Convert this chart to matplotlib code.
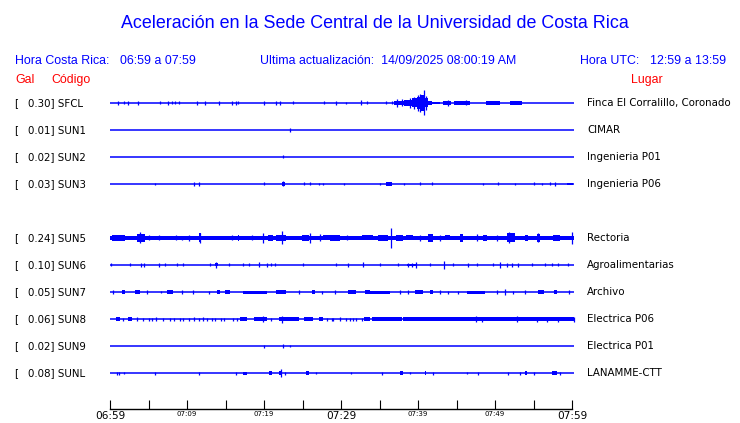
import matplotlib.pyplot as plt
from matplotlib.transforms import blended_transform_factory

# estaciones (fila 4 vacia, SUN4 no reporta)
stations = ['SFCL', 'SUN1', 'SUN2', 'SUN3', 'SUN5', 'SUN6', 'SUN7', 'SUN8', 'SUN9', 'SUNL']
gal = [0.30, 0.01, 0.02, 0.03, 0.24, 0.10, 0.05, 0.06, 0.02, 0.08]
places = ['Finca El Corralillo, Coronado', 'CIMAR', 'Ingenieria P01', 'Ingenieria P06',
          'Rectoria', 'Agroalimentarias', 'Archivo', 'Electrica P06', 'Electrica P01',
          'LANAMME-CTT']
rows = [0, 1, 2, 3, 5, 6, 7, 8, 9, 10]

tick_minutes = list(range(0, 61, 5))
tick_text = ['06:59', '', '07:09', '', '07:19', '', '07:29', '', '07:39', '', '07:49', '', '07:59']
t_end = 60.3

# picos: (minuto desde 06:59, semi-amplitud)
sfcl_spikes = [(1.0, 2), (1.8, 1.5), (2.3, 2), (3.7, 2), (6.5, 1.5), (7.5, 2), (8.1, 1.5), (8.5, 1.5),
               (9.0, 1.5), (11.3, 2), (12.3, 2), (14.2, 2), (15.9, 2), (16.4, 2), (16.6, 1.5), (20.0, 2),
               (21.5, 2), (22.1, 2), (23.8, 1.5), (27.8, 1.5), (29.4, 2), (30.6, 1), (32.6, 2.5),
               (33.4, 1.5), (35.9, 1.5), (36.6, 1.5), (37.3, 4), (37.9, 3.5), (39.0, 5), (39.5, 6),
               (40.0, 8), (40.3, 9), (40.8, 12.5), (41.0, 7), (43.9, 3), (46.2, 2.5)]
# tramos: (inicio, fin, semi-amplitud)
sfcl_bands = [(36.9, 38.2, 2.2), (38.2, 39.2, 3.2), (39.2, 39.9, 4.5), (39.9, 40.4, 6), (40.4, 40.9, 8),
              (40.9, 41.3, 4.5), (41.3, 41.8, 2.2), (41.8, 42.9, 1.3), (43.2, 44.3, 1.8), (44.7, 46.8, 1.6),
              (48.8, 50.6, 1.7), (51.9, 53.5, 1.7)]

sun1_spikes = [(23.4, 2)]
sun1_bands = []

sun2_spikes = [(22.5, 1.5)]
sun2_bands = []

sun3_spikes = [(5.9, 1), (10.9, 2), (11.5, 2), (20.0, 1.5), (22.5, 2.5), (25.2, 1.5), (26.0, 1.5),
               (27.1, 1), (27.7, 1), (30.4, 1), (35.1, 1), (38.2, 1), (40.2, 1.5), (41.8, 1.5), (48.4, 1),
               (50.4, 1.5), (52.6, 1), (55.0, 1.5), (56.1, 1), (57.1, 1.5), (57.8, 2)]
sun3_bands = [(22.4, 22.7, 2), (35.9, 36.6, 1.6), (59.3, 60.1, 1.3)]

sun5_spikes = [(3.9, 5.5), (5.1, 2.5), (6.3, 2.5), (8.6, 2.5), (9.3, 2), (10.2, 3), (11.7, 5), (15.8, 2.5),
               (18.4, 2.5), (19.9, 5), (22.3, 6.5), (26.0, 5), (27.3, 3.5), (30.8, 2.5), (36.5, 10),
               (40.3, 3), (42.9, 3), (47.6, 3.5), (50.2, 3), (51.8, 5.5), (55.6, 4.5), (60.0, 6)]
sun5_bands = [(0.0, 60.3, 2), (0.2, 1.9, 3.2), (3.5, 4.5, 3.6), (11.6, 11.8, 4.5), (16.6, 16.8, 3.2),
              (20.5, 21.2, 2.8), (21.6, 22.9, 3.2), (24.9, 25.8, 3.2), (27.7, 28.6, 2.5), (28.6, 29.9, 3.2),
              (32.7, 34.2, 2.5), (34.8, 36.1, 3.2), (37.2, 38.1, 3.2), (38.4, 39.4, 2.5), (41.3, 41.9, 3.6),
              (43.5, 44.2, 2.5), (45.5, 45.9, 3.6), (48.4, 49.0, 3.2), (51.5, 52.6, 4.5), (53.9, 54.3, 3.2),
              (55.4, 55.8, 4), (57.5, 58.4, 2.8)]

sun6_spikes = [(0.1, 1.5), (2.6, 1.5), (4.0, 2), (4.4, 2), (6.3, 2), (7.1, 1.5), (8.7, 1.5), (9.5, 1.5),
               (13.0, 1.5), (13.8, 3), (15.5, 1.5), (17.3, 1.5), (18.0, 1.5), (19.4, 2.5), (20.4, 2),
               (20.9, 1.5), (21.4, 1.5), (25.0, 1.5), (29.4, 1.5), (30.9, 2), (32.9, 2.5), (35.1, 1.5),
               (37.4, 1.5), (38.7, 2), (39.2, 2), (39.8, 3), (41.5, 1.5), (43.4, 4), (44.5, 1.5), (46.5, 2),
               (47.6, 1.5), (49.8, 1.5), (50.7, 3), (51.6, 2), (52.2, 2), (53.0, 2), (54.8, 1.5),
               (56.5, 1.5), (57.4, 1.5), (58.2, 1.5), (59.5, 1.5)]
sun6_bands = [(38.6, 39.9, 1.4), (13.6, 14.0, 1.5)]

sun7_spikes = [(0.4, 2), (4.8, 2), (6.6, 1), (9.4, 2), (10.8, 2), (12.9, 1.5), (24.5, 2), (27.5, 1.5),
               (29.2, 2), (37.7, 2), (38.7, 2), (42.9, 2), (43.9, 1.5), (45.2, 1.5), (50.2, 2), (51.3, 3),
               (52.4, 1.5), (53.9, 2), (59.6, 2)]
sun7_bands = [(1.5, 1.9, 2), (3.2, 3.9, 2), (7.4, 8.2, 2), (13.9, 14.3, 2), (14.9, 15.6, 2), (17.3, 20.4, 1.5),
              (21.6, 22.9, 2), (26.2, 26.6, 2), (30.9, 32.0, 2), (33.1, 33.8, 2), (33.8, 36.4, 1.5),
              (39.6, 40.7, 2), (41.6, 42.0, 2), (46.3, 48.7, 1.5), (55.6, 56.3, 2), (57.6, 58.0, 2)]

sun8_spikes = [(1.7, 1.5), (3.5, 2), (4.3, 1.5), (5.0, 1.5), (5.4, 1.5), (6.0, 2), (6.9, 1.5), (7.8, 1.5),
               (8.3, 1.5), (9.1, 1.5), (9.5, 1.5), (10.2, 1.5), (10.9, 2), (11.5, 1.5), (12.1, 2),
               (12.6, 1.5), (13.2, 1.5), (13.6, 1.5), (14.4, 1.5), (14.8, 1.5), (16.0, 1.5), (16.5, 1.5),
               (19.9, 3), (20.9, 1.5), (22.4, 3.5), (28.2, 1.5), (28.8, 1.5), (29.0, 1.5), (29.9, 2),
               (30.7, 1.5), (31.2, 1.5), (31.6, 1.5), (32.0, 1.5), (32.7, 1.5), (47.5, 3), (48.3, 2.5),
               (52.9, 3), (55.5, 2.5), (56.7, 2.5), (58.2, 2.5), (60.3, 2.5)]
sun8_bands = [(0.8, 1.3, 2), (2.4, 2.8, 2), (16.9, 17.8, 1.8), (18.7, 20.4, 2), (21.9, 24.5, 2.2),
              (25.2, 26.4, 1.8), (27.1, 27.7, 2.2), (33.0, 33.8, 1.8), (34.0, 37.9, 2), (38.1, 60.3, 2)]

sun9_spikes = [(20.0, 1.5), (22.5, 2), (23.4, 1)]
sun9_bands = []

sunl_spikes = [(0.9, 1.5), (1.2, 1.5), (1.8, 1), (5.9, 1.5), (11.6, 1.5), (16.4, 1.5), (22.2, 4), (22.7, 1.5),
               (26.8, 1), (31.3, 1), (35.3, 1.5), (38.9, 1), (42.0, 1.5), (46.3, 1), (47.8, 1.5), (51.7, 1.5),
               (53.2, 1.5), (55.0, 1.5), (58.4, 1.5)]
sunl_bands = [(17.3, 17.8, 1.5), (20.6, 21.0, 1.8), (22.0, 22.4, 2.2), (25.5, 25.9, 1.8), (37.7, 38.1, 1.8),
              (40.9, 41.1, 1.8), (53.9, 54.1, 1.8), (57.4, 58.0, 1.8)]

all_spikes = [sfcl_spikes, sun1_spikes, sun2_spikes, sun3_spikes, sun5_spikes,
              sun6_spikes, sun7_spikes, sun8_spikes, sun9_spikes, sunl_spikes]
all_bands = [sfcl_bands, sun1_bands, sun2_bands, sun3_bands, sun5_bands,
             sun6_bands, sun7_bands, sun8_bands, sun9_bands, sunl_bands]

blue = '#0000ff'
red = '#ff0000'
amp_k = 1 / 27.0  # amplitude -> row units

fig = plt.figure(figsize=(7.4, 4.23), dpi=100)
ax = fig.add_axes([110 / 740, 14 / 423, 462 / 740, 319 / 423])
ax.set_xlim(0, 60)
ax.set_ylim(11.333, -0.481)

for row, sp, bd in zip(rows, all_spikes, all_bands):
    ax.plot([0, t_end], [row, row], color=blue, lw=1.1, solid_capstyle='butt', clip_on=False)
    for s, e, a in bd:
        ax.fill_between([s, e], row - a * amp_k, row + a * amp_k, color=blue, lw=0, clip_on=False)
    if sp:
        t = [p[0] for p in sp]
        a = [p[1] * amp_k for p in sp]
        ax.vlines(t, [row - v for v in a], [row + v for v in a], color=blue, lw=0.9, clip_on=False)

for s in ['top', 'left', 'right']:
    ax.spines[s].set_visible(False)
ax.spines['bottom'].set_linewidth(1.0)
ax.set_yticks([])
ax.set_xticks(tick_minutes)
ax.set_xticklabels(tick_text)
ax.tick_params(axis='x', direction='in', length=6.5, width=0.8, pad=1.5)
for lbl, m in zip(ax.get_xticklabels(), tick_minutes):
    if m % 30 == 0:
        lbl.set_fontsize(7.6)
        lbl.set_family('DejaVu Sans')
    else:
        lbl.set_fontsize(5)
        lbl.set_family(['Liberation Sans Narrow', 'DejaVu Sans'])

tr = blended_transform_factory(fig.transFigure, ax.transData)
for row, st, g, pl in zip(rows, stations, gal, places):
    ax.text(14 / 740, row, '[', transform=tr, fontsize=7.4, va='center', ha='left', family='DejaVu Sans')
    ax.text(28 / 740, row, f'{g:.2f}] {st}', transform=tr, fontsize=7.4, va='center', ha='left',
            family='DejaVu Sans')
    ax.text(587 / 740, row, pl, transform=tr, fontsize=7.4, va='center', ha='left', family='DejaVu Sans')

hf = 'Liberation Sans'
fig.text(375 / 740, 1 - 23 / 423, 'Aceleración en la Sede Central de la Universidad de Costa Rica',
         ha='center', va='center', color=blue, fontsize=12.9, family=hf)
hy = 1 - 61 / 423
fig.text(15 / 740, hy, 'Hora Costa Rica:', color=blue, fontsize=8.9, va='center', family=hf)
fig.text(120 / 740, hy, '06:59 a 07:59', color=blue, fontsize=8.9, va='center', family=hf)
fig.text(260 / 740, hy, 'Ultima actualización:  14/09/2025 08:00:19 AM', color=blue, fontsize=8.9,
         va='center', family=hf)
fig.text(580 / 740, hy, 'Hora UTC:', color=blue, fontsize=8.9, va='center', family=hf)
fig.text(650 / 740, hy, '12:59 a 13:59', color=blue, fontsize=8.9, va='center', family=hf)
ry = 1 - 80 / 423
fig.text(15 / 740, ry, 'Gal', color=red, fontsize=8.9, va='center', family=hf)
fig.text(51 / 740, ry, 'Código', color=red, fontsize=8.9, va='center', family=hf)
fig.text(631 / 740, ry, 'Lugar', color=red, fontsize=8.9, va='center', family=hf)

fig.savefig('out.png', dpi=100)
